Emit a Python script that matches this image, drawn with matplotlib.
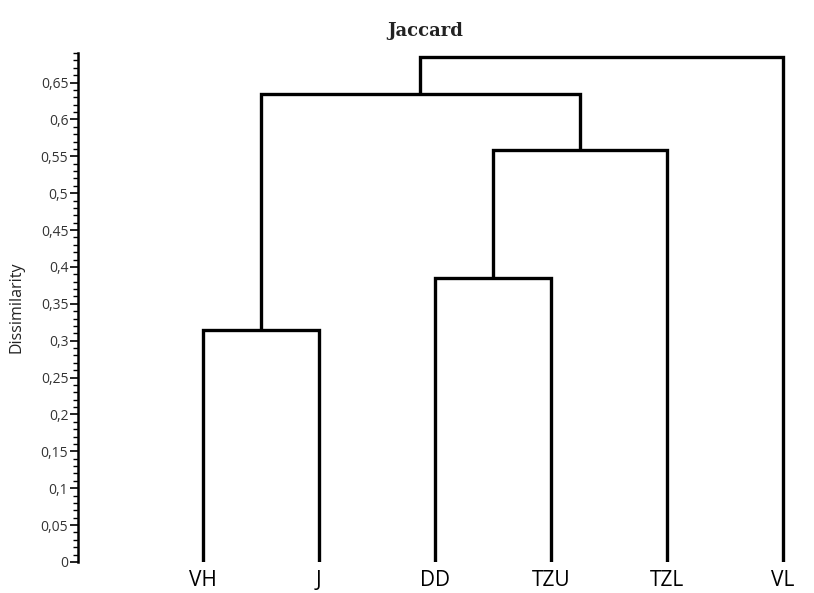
import matplotlib.pyplot as plt
from matplotlib.ticker import MultipleLocator, FuncFormatter

# leaves in display order
leaves = ['VH', 'J', 'DD', 'TZU', 'TZL', 'VL']
# merges: (left member, right member, height); members are leaf names or merge indices
merge_left = ['VH', 'DD', 1, 0, 3]
merge_right = ['J', 'TZU', 'TZL', 2, 'VL']
merge_height = [0.315, 0.385, 0.558, 0.635, 0.684]

fig = plt.figure(figsize=(8.14, 5.93), dpi=100)
ax = fig.add_axes([0.0958, 0.0523, 0.9042, 0.8583])

leaf_x = {name: i + 1 for i, name in enumerate(leaves)}
node_x = []
node_y = []


def pos(m):
    if isinstance(m, str):
        return leaf_x[m], 0.0
    return node_x[m], node_y[m]


for a, b, h in zip(merge_left, merge_right, merge_height):
    xa, ya = pos(a)
    xb, yb = pos(b)
    ax.plot([xa, xa, xb, xb], [ya, h, h, yb], color='black', lw=2.4,
            solid_joinstyle='miter', solid_capstyle='butt')
    node_x.append((xa + xb) / 2)
    node_y.append(h)

ax.set_xlim(-0.078, 6.27)
ax.set_ylim(0, 0.69)

for s in ['top', 'right', 'bottom']:
    ax.spines[s].set_visible(False)
ax.spines['left'].set_linewidth(1.8)

ax.set_xticks(range(1, len(leaves) + 1))
ax.set_xticklabels(leaves, fontsize=15, family='Open Sans')
ax.tick_params(axis='x', length=0, pad=6)

ax.yaxis.set_major_locator(MultipleLocator(0.05))
ax.yaxis.set_minor_locator(MultipleLocator(0.01))
ax.yaxis.set_major_formatter(FuncFormatter(lambda v, p: ('%g' % round(v, 2)).replace('.', ',')))
ax.tick_params(axis='y', which='major', length=6, width=1.2, labelsize=10, pad=1)
ax.tick_params(axis='y', which='minor', length=3.5, width=1.0, direction='out')
for t in ax.get_yticklabels():
    t.set_family('Open Sans')
    t.set_color('#333333')

ax.set_ylabel('Dissimilarity', family='Open Sans', fontsize=11.5, color='#222222')
ax.yaxis.set_label_coords(-0.072, 0.5)
fig.text(0.522, 0.948, 'Jaccard', family='DejaVu Serif', fontsize=13,
         fontweight='bold', ha='center', va='center', color='#222222')

fig.savefig('out.png', dpi=100)
